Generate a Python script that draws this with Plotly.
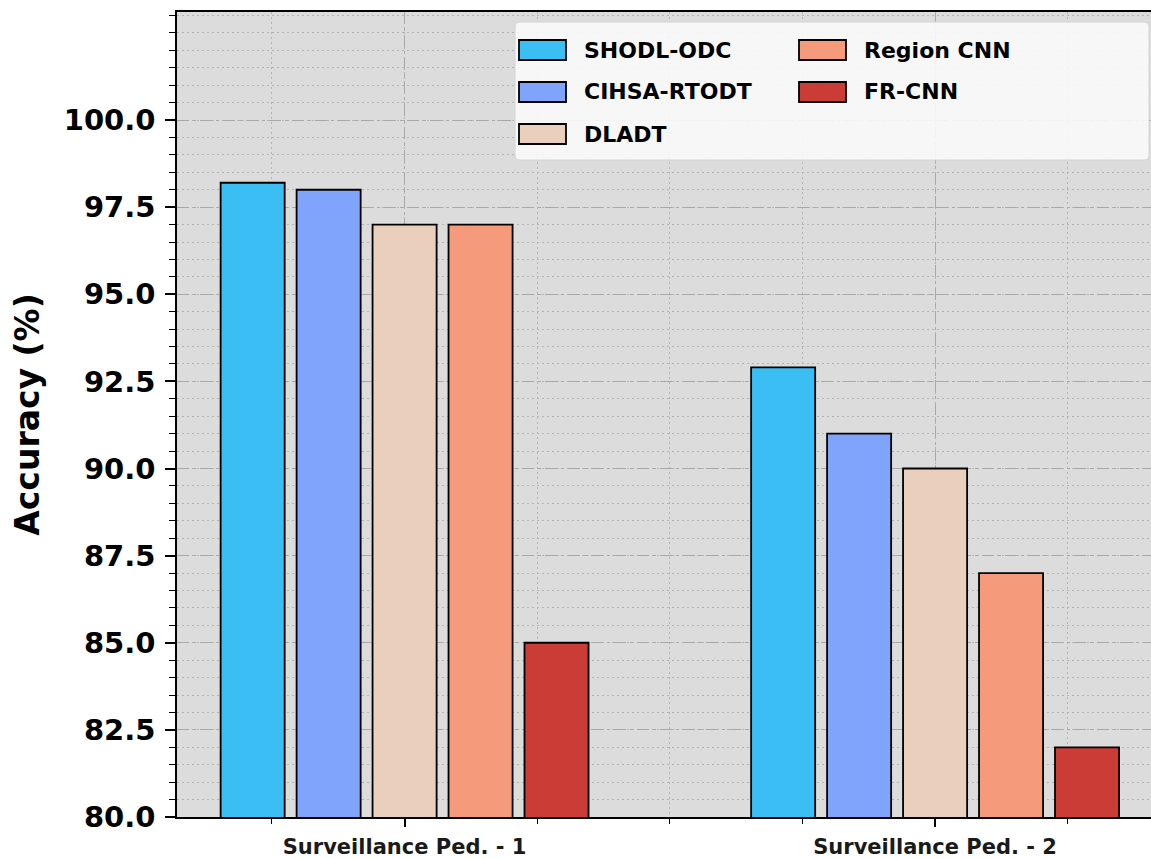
import plotly.graph_objects as go

categories = ["Surveillance Ped. - 1", "Surveillance Ped. - 2"]
methods = ["SHODL-ODC", "CIHSA-RTODT", "DLADT", "Region CNN", "FR-CNN"]
shodl_odc = [98.2, 92.9]
cihsa_rtodt = [98.0, 91.0]
dladt = [97.0, 90.0]
region_cnn = [97.0, 87.0]
fr_cnn = [85.0, 82.0]
colors = ["#3BBEF4", "#80A4FB", "#EACFBD", "#F59A7A", "#CB3C36"]
y_ticks = [80.0, 82.5, 85.0, 87.5, 90.0, 92.5, 95.0, 97.5, 100.0]

series = [shodl_odc, cihsa_rtodt, dladt, region_cnn, fr_cnn]
xpos = list(range(len(categories)))

W, H = 1151, 859
ML, MR, MT, MB = 177, 0, 12, 42
PW, PH = W - ML - MR, H - MT - MB

def px(x):
    return (x - ML) / PW

def py(y):
    return (H - MB - y) / PH

fig = go.Figure()
for name, vals, col in zip(methods, series, colors):
    fig.add_trace(go.Bar(
        x=xpos, y=vals, name=name, showlegend=False,
        marker=dict(color=col, line=dict(color="black", width=1.8)),
    ))

# custom legend (matplotlib style, two columns)
legend_font = dict(family="DejaVu Sans", size=22, color="black", weight="bold")
shapes = []
annotations = []
bx0, bx1, by0, by1, r = 515, 1149, 22, 160, 5
path = (f"M {px(bx0+r)},{py(by0)} L {px(bx1-r)},{py(by0)} Q {px(bx1)},{py(by0)} {px(bx1)},{py(by0+r)} "
        f"L {px(bx1)},{py(by1-r)} Q {px(bx1)},{py(by1)} {px(bx1-r)},{py(by1)} "
        f"L {px(bx0+r)},{py(by1)} Q {px(bx0)},{py(by1)} {px(bx0)},{py(by1-r)} "
        f"L {px(bx0)},{py(by0+r)} Q {px(bx0)},{py(by0)} {px(bx0+r)},{py(by0)} Z")
shapes.append(dict(type="path", xref="paper", yref="paper", path=path,
                   fillcolor="rgba(248,248,248,0.92)", line=dict(color="#D4D4D4", width=1), layer="above"))
col_x = [519, 799]
row_y = [50, 92, 134]
for i, (name, col) in enumerate(zip(methods, colors)):
    c, rr = (0, i) if i < 3 else (1, i - 3)
    sx, sy = col_x[c], row_y[rr]
    shapes.append(dict(type="rect", xref="paper", yref="paper",
                       x0=px(sx), x1=px(sx + 47), y0=py(sy - 10), y1=py(sy + 10),
                       fillcolor=col, line=dict(color="black", width=1.8), layer="above"))
    annotations.append(dict(text=name, xref="paper", yref="paper", x=px(sx + 63), y=py(sy),
                            xanchor="left", yanchor="middle", showarrow=False, font=legend_font))

grid_major = "#A8A8A8"
grid_minor = "#B4B4B4"

fig.update_layout(
    width=W, height=H,
    margin=dict(l=ML, r=MR, t=MT, b=MB, autoexpand=False),
    paper_bgcolor="white", plot_bgcolor="#DCDCDC",
    barmode="group", bargap=0.284, bargroupgap=0.157,
    shapes=shapes, annotations=annotations,
    xaxis=dict(
        range=[-0.429, 1.407], tickmode="array", tickvals=xpos, ticktext=categories,
        tickfont=dict(family="DejaVu Sans", size=21, color="#1a1a1a", weight="bold"),
        ticks="outside", ticklen=8, tickwidth=1.5, tickcolor="black", ticklabelstandoff=2,
        showline=True, linecolor="black", linewidth=1.5, mirror=True,
        showgrid=True, gridcolor=grid_major, griddash="12px,4px,3px,4px", gridwidth=1.3,
        zeroline=False,
        minor=dict(tickmode="linear", tick0=0, dtick=0.25, ticks="outside", ticklen=5,
                   tickwidth=1.2, tickcolor="black", showgrid=True, gridcolor=grid_minor,
                   griddash="2px,3px", gridwidth=1.2),
    ),
    yaxis=dict(
        range=[80, 103.1], tickmode="array", tickvals=y_ticks, tickformat=".1f",
        tickfont=dict(family="DejaVu Sans", size=29, color="black", weight="bold"),
        ticks="outside", ticklen=10, tickwidth=1.5, tickcolor="black", ticklabelstandoff=4,
        showline=True, linecolor="black", linewidth=1.5, mirror=False,
        showgrid=True, gridcolor=grid_major, griddash="12px,4px,3px,4px", gridwidth=1.3,
        zeroline=False,
        title=dict(text="Accuracy (%)", standoff=14,
                   font=dict(family="DejaVu Sans", size=33, color="black", weight="bold")),
        minor=dict(tickmode="linear", tick0=80, dtick=0.5, ticks="outside", ticklen=6, tickwidth=1.2,
                   tickcolor="black", showgrid=True, gridcolor=grid_minor,
                   griddash="2px,3px", gridwidth=1.2),
    ),
)

fig.write_html("out.html", config={"displayModeBar": False},
               post_script="document.body.style.margin='0';document.body.style.overflow='hidden';")
